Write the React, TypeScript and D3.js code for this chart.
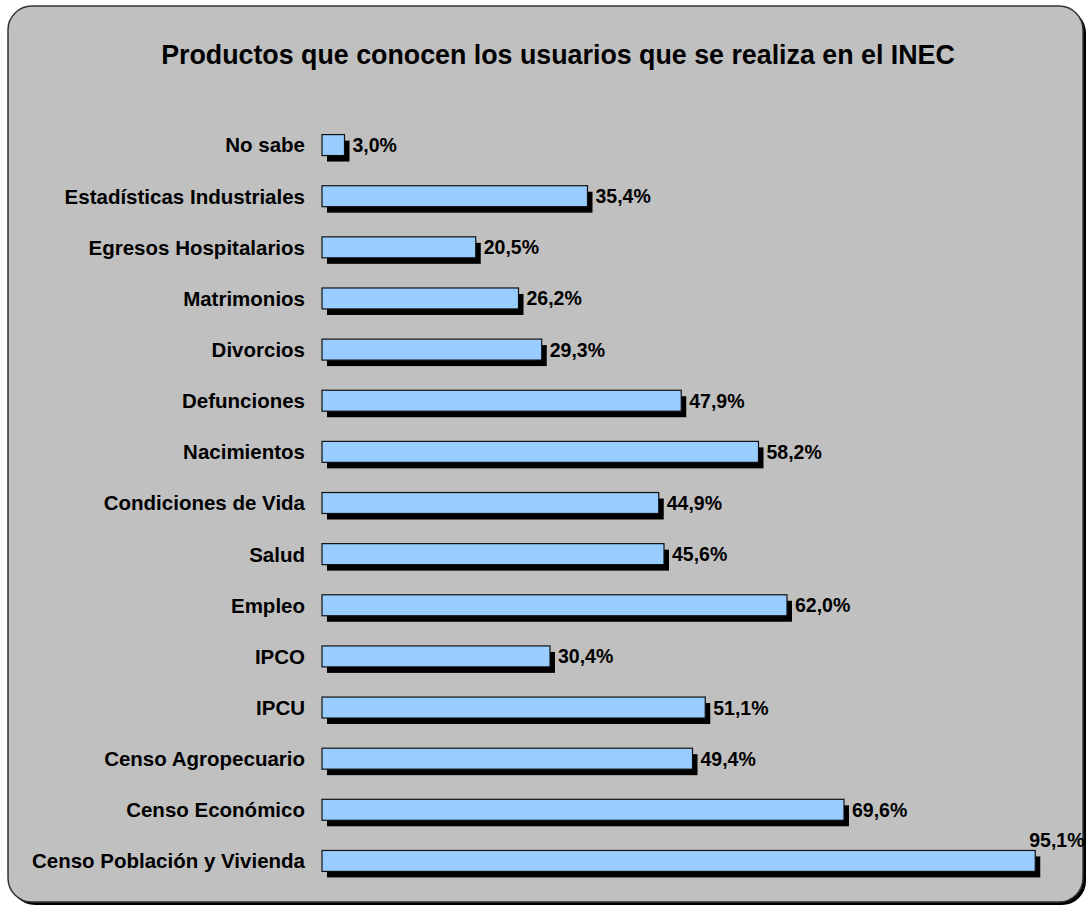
import { useRef, useEffect } from 'react';
import * as d3 from 'd3';

const categories = [
    'No sabe',
    'Estadísticas Industriales',
    'Egresos Hospitalarios',
    'Matrimonios',
    'Divorcios',
    'Defunciones',
    'Nacimientos',
    'Condiciones de Vida',
    'Salud',
    'Empleo',
    'IPCO',
    'IPCU',
    'Censo Agropecuario',
    'Censo Económico',
    'Censo Población y Vivienda',
];

const values = [3.0, 35.4, 20.5, 26.2, 29.3, 47.9, 58.2, 44.9, 45.6, 62.0, 30.4, 51.1, 49.4, 69.6, 95.1];

const title = 'Productos que conocen los usuarios que se realiza en el INEC';

const W = 1087;
const H = 906;

export default function App() {
    const svgRef = useRef<SVGSVGElement>(null);

    useEffect(() => {
        if (!svgRef.current) return;
        document.body.style.margin = '0';

        const svg = d3.select(svgRef.current);
        svg.selectAll('*').remove();

        const font = '"Liberation Sans", Arial, sans-serif';

        // Chart area frame (shadow + gray rounded box)
        svg.append('rect')
            .attr('x', 11).attr('y', 9)
            .attr('width', 1075).attr('height', 896)
            .attr('rx', 24)
            .attr('fill', '#000');
        svg.append('rect')
            .attr('x', 8).attr('y', 6)
            .attr('width', 1075).attr('height', 896)
            .attr('rx', 24)
            .attr('fill', '#C0C0C0')
            .attr('stroke', '#333')
            .attr('stroke-width', 1.5);

        // Title
        svg.append('text')
            .attr('x', 558).attr('y', 64)
            .attr('text-anchor', 'middle')
            .attr('font-family', font)
            .attr('font-weight', 'bold')
            .attr('font-size', 26.8)
            .attr('fill', '#000')
            .text(title);

        // Scales
        const x = d3.scaleLinear().domain([0, 100]).range([322, 1072]);
        const y = d3.scaleBand()
            .domain(categories)
            .range([119.5, 886.5])
            .paddingInner(0.59)
            .paddingOuter(0.295);

        const data = categories.map((c, i) => ({ c, v: values[i] }));
        const bh = y.bandwidth();

        // Shadows
        svg.selectAll('.shadow')
            .data(data)
            .enter()
            .append('rect')
            .attr('x', x(0) + 5)
            .attr('y', d => (y(d.c) || 0) + 6)
            .attr('width', d => x(d.v) - x(0))
            .attr('height', bh)
            .attr('fill', '#000');

        // Bars
        svg.selectAll('.bar')
            .data(data)
            .enter()
            .append('rect')
            .attr('x', x(0))
            .attr('y', d => y(d.c) || 0)
            .attr('width', d => x(d.v) - x(0))
            .attr('height', bh)
            .attr('fill', '#99CCFF')
            .attr('stroke', '#111')
            .attr('stroke-width', 1.2);

        // Category labels
        svg.selectAll('.cat')
            .data(data)
            .enter()
            .append('text')
            .attr('x', 305)
            .attr('y', d => (y(d.c) || 0) + bh / 2)
            .attr('dy', '0.36em')
            .attr('text-anchor', 'end')
            .attr('font-family', font)
            .attr('font-weight', 'bold')
            .attr('font-size', 20.5)
            .attr('fill', '#000')
            .text(d => d.c);

        // Value labels
        const fmt = (v: number) => v.toFixed(1).replace('.', ',') + '%';
        svg.selectAll('.val')
            .data(data)
            .enter()
            .append('text')
            .attr('x', d => d.v > 90 ? x(d.v) - 6 : x(d.v) + 8)
            .attr('y', d => d.v > 90 ? (y(d.c) || 0) - 3 : (y(d.c) || 0) + bh / 2)
            .attr('dy', d => d.v > 90 ? 0 : '0.36em')
            .attr('font-family', font)
            .attr('font-weight', 'bold')
            .attr('font-size', 19.5)
            .attr('fill', '#000')
            .text(d => fmt(d.v));
    }, []);

    return (
        <svg
            ref={svgRef}
            width={W}
            height={H}
            style={{ position: 'absolute', left: 0, top: 0, background: '#fff' }}
        />
    );
}
